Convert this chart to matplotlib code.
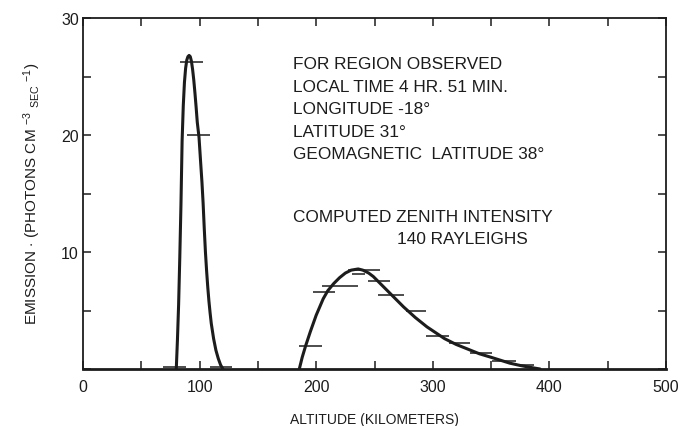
import matplotlib
matplotlib.use("Agg")
import matplotlib.pyplot as plt
from matplotlib.ticker import MultipleLocator, FuncFormatter

plt.rcParams["font.family"] = ["Liberation Sans", "DejaVu Sans"]
plt.rcParams["mathtext.fontset"] = "custom"
plt.rcParams["mathtext.rm"] = "Liberation Sans"
plt.rcParams["mathtext.it"] = "Liberation Sans"

ink = "#1c1c1c"

# lower peak (~90 km): smooth profile
alt_lo = [80, 81, 82, 83, 84, 85, 86, 87, 88, 89, 90, 91, 92, 93, 94, 95, 96, 97,
          98, 99.5, 101, 102, 103, 104, 105, 106, 107, 108, 109, 110, 112, 114,
          116, 118, 120]
em_lo = [0, 2.5, 5.5, 9.5, 14, 19.5, 22.5, 24.5, 25.7, 26.4, 26.7, 26.8, 26.7,
         26.3, 25.6, 24.7, 23.6, 22.4, 21.1, 19.8, 17.5, 16, 14.2, 12, 10, 8.4,
         7, 5.8, 4.8, 3.9, 2.6, 1.6, 0.9, 0.35, 0]

# upper layer (~240 km)
alt_hi = [185.5, 188, 191, 195, 200, 206, 210, 215, 220, 225, 230, 236, 240, 245,
          249, 255, 261, 268, 275, 285, 295, 301, 310, 320, 330, 340, 350, 358,
          366, 375, 383, 392]
em_hi = [0, 1.0, 2.0, 3.2, 4.6, 6.0, 6.7, 7.3, 7.8, 8.2, 8.45, 8.55, 8.45, 8.2,
         7.9, 7.3, 6.7, 6.0, 5.3, 4.4, 3.6, 3.2, 2.6, 2.1, 1.7, 1.3, 1.0, 0.75,
         0.5, 0.3, 0.15, 0]

# measured values: horizontal bars over altitude ranges
bar_x0 = [83, 89, 69, 109, 185, 197, 205, 231, 227, 244, 253, 277, 294, 314, 332, 351, 371]
bar_x1 = [103, 109, 88, 128, 205, 216, 236, 242, 255, 263, 275, 294, 314, 332, 351, 371, 387]
bar_y = [26.2, 20.0, 0.2, 0.2, 2.0, 6.6, 7.1, 8.1, 8.45, 7.5, 6.3, 5.0, 2.8, 2.2, 1.4, 0.7, 0.3]

notes = ["FOR REGION OBSERVED", "LOCAL TIME 4 HR. 51 MIN.", "LONGITUDE -18°",
         "LATITUDE 31°", "GEOMAGNETIC  LATITUDE 38°"]
intensity = ["COMPUTED ZENITH INTENSITY", "140 RAYLEIGHS"]

fig = plt.figure(figsize=(6.97, 4.27), dpi=100)
ax = fig.add_axes([83 / 697, 57 / 427, 583 / 697, 351 / 427])

ax.hlines(bar_y, bar_x0, bar_x1, color=ink, lw=1.1)
ax.plot(alt_lo, em_lo, color=ink, lw=2.2, solid_capstyle="round")
ax.plot(alt_hi, em_hi, color=ink, lw=2.2, solid_capstyle="round")

ax.set_xlim(0, 500)
ax.set_ylim(0, 30)
ax.xaxis.set_major_locator(MultipleLocator(100))
ax.xaxis.set_minor_locator(MultipleLocator(50))
ax.yaxis.set_major_locator(MultipleLocator(10))
ax.yaxis.set_minor_locator(MultipleLocator(5))
ax.yaxis.set_major_formatter(FuncFormatter(lambda v, _: "" if v == 0 else f"{v:.0f}"))
ax.tick_params(which="both", direction="in", top=True, right=True, length=6,
               width=1.1, color=ink, labelcolor=ink, labelsize=11.5)
ax.tick_params(axis="x", pad=7)
ax.tick_params(axis="y", pad=3)
for side, s in ax.spines.items():
    s.set_color(ink)
    s.set_linewidth(2.0 if side == "bottom" else 1.3)

ax.set_xlabel("ALTITUDE (KILOMETERS)", fontsize=10, color=ink, labelpad=13)
fig.text(32 / 697, 1 - 194 / 427,
         r"EMISSION $\cdot$ (PHOTONS CM $^{-3}$ ${}_{\mathrm{SEC}}$ $^{-1}$)",
         rotation=90, ha="center", va="center", fontsize=11, color=ink)

for i, line in enumerate(notes):
    fig.text(293 / 697, 1 - (65 + 22.5 * i) / 427, line, fontsize=12.4,
             color=ink, va="center", ha="left")
fig.text(293 / 697, 1 - 218 / 427, intensity[0], fontsize=12.4, color=ink,
         va="center", ha="left")
fig.text(397 / 697, 1 - 240 / 427, intensity[1], fontsize=12.4, color=ink,
         va="center", ha="left")

fig.savefig("out.png", dpi=100, facecolor="white")
